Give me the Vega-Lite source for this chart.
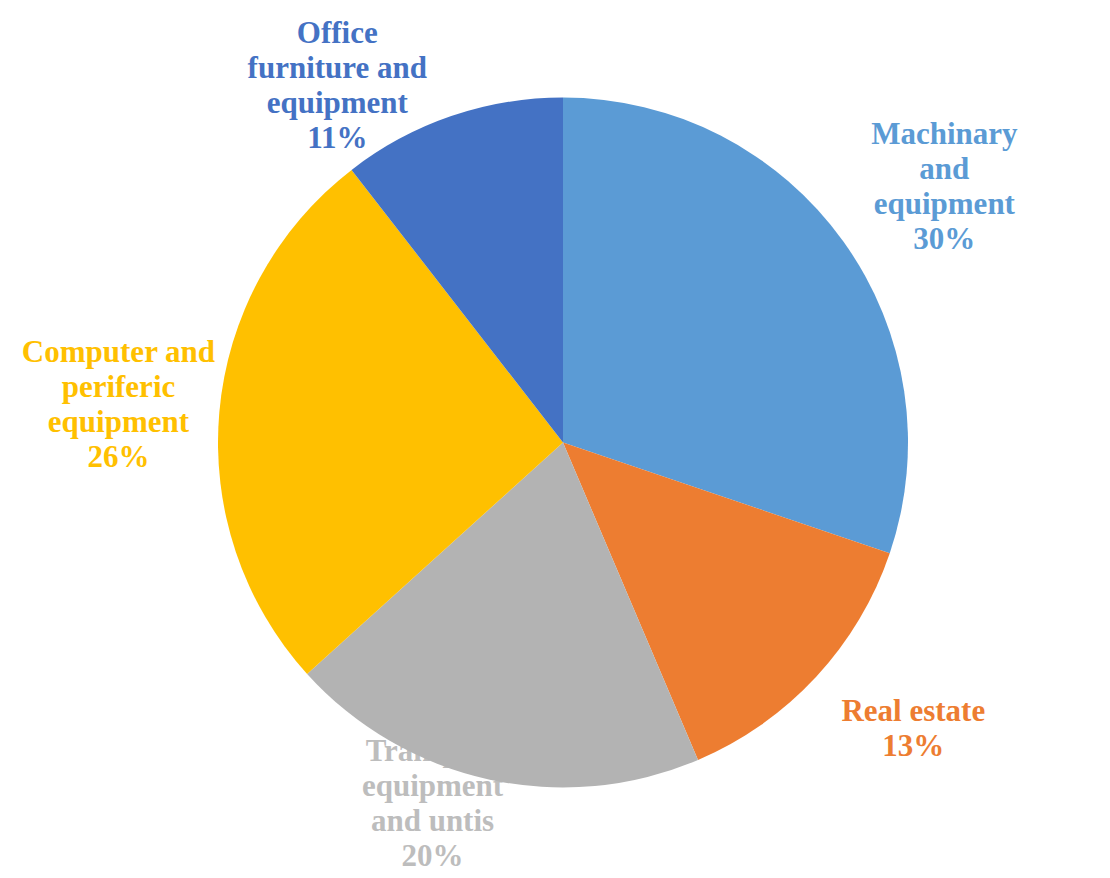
{
  "$schema": "https://vega.github.io/schema/vega-lite/v6.json",
  "width": 1094,
  "height": 871,
  "autosize": {"type": "none"},
  "padding": {"left": 16, "top": 7, "right": 0, "bottom": 0},
  "background": "white",
  "data": {
    "values": [
      {"i": 1, "category": "Machinary and equipment", "share": 30.2, "label": "Machinary\nand\nequipment\n30%"},
      {"i": 2, "category": "Real estate", "share": 13.4, "label": "Real estate\n13%"},
      {"i": 3, "category": "Transport equipment and untis", "share": 19.7, "label": "Transport\nequipment\nand untis\n20%"},
      {"i": 4, "category": "Computer and periferic equipment", "share": 26.2, "label": "Computer and\nperiferic\nequipment\n26%"},
      {"i": 5, "category": "Office furniture and equipment", "share": 10.5, "label": "Office\nfurniture and\nequipment\n11%"}
    ]
  },
  "encoding": {
    "theta": {"field": "share", "type": "quantitative", "stack": true},
    "order": {"field": "i", "type": "quantitative"},
    "color": {
      "field": "category",
      "type": "nominal",
      "scale": {
        "domain": ["Machinary and equipment", "Real estate", "Transport equipment and untis", "Computer and periferic equipment", "Office furniture and equipment"],
        "range": ["#5B9BD5", "#ED7D31", "#B3B3B3", "#FFC000", "#4472C4"]
      },
      "legend": null
    }
  },
  "layer": [
    {
      "mark": {"type": "text", "radius": 385, "thetaOffset": 0.129, "dy": -52.5, "font": "Liberation Serif", "fontWeight": "bold", "fontSize": 31, "lineHeight": 35, "lineBreak": "\n", "align": "center", "baseline": "middle"},
      "encoding": {
        "text": {"condition": {"test": "datum.category === 'Transport equipment and untis'", "field": "label"}, "value": ""},
        "color": {"value": "#BDBDBD"}
      }
    },
    {
      "mark": {"type": "arc", "outerRadius": 345}
    },
    {
      "mark": {"type": "text", "radius": 458, "thetaOffset": 0.035, "dy": -54, "font": "Liberation Serif", "fontWeight": "bold", "fontSize": 31, "lineHeight": 35, "lineBreak": "\n", "align": "center", "baseline": "middle"},
      "encoding": {
        "text": {"condition": {"test": "datum.category === 'Machinary and equipment'", "field": "label"}, "value": ""}
      }
    },
    {
      "mark": {"type": "text", "radius": 447, "thetaOffset": 0.017, "dy": -42.5, "font": "Liberation Serif", "fontWeight": "bold", "fontSize": 31, "lineHeight": 35, "lineBreak": "\n", "align": "center", "baseline": "middle"},
      "encoding": {
        "text": {"condition": {"test": "datum.category === 'Computer and periferic equipment'", "field": "label"}, "value": ""}
      }
    },
    {
      "mark": {"type": "text", "radius": 453, "thetaOffset": -0.061, "dy": -17.5, "font": "Liberation Serif", "fontWeight": "bold", "fontSize": 31, "lineHeight": 35, "lineBreak": "\n", "align": "center", "baseline": "middle"},
      "encoding": {
        "text": {"condition": {"test": "datum.category === 'Real estate'", "field": "label"}, "value": ""}
      }
    },
    {
      "mark": {"type": "text", "radius": 423, "thetaOffset": -0.233, "dy": -51, "font": "Liberation Serif", "fontWeight": "bold", "fontSize": 31, "lineHeight": 35, "lineBreak": "\n", "align": "center", "baseline": "middle"},
      "encoding": {
        "text": {"condition": {"test": "datum.category === 'Office furniture and equipment'", "field": "label"}, "value": ""}
      }
    }
  ]
}
